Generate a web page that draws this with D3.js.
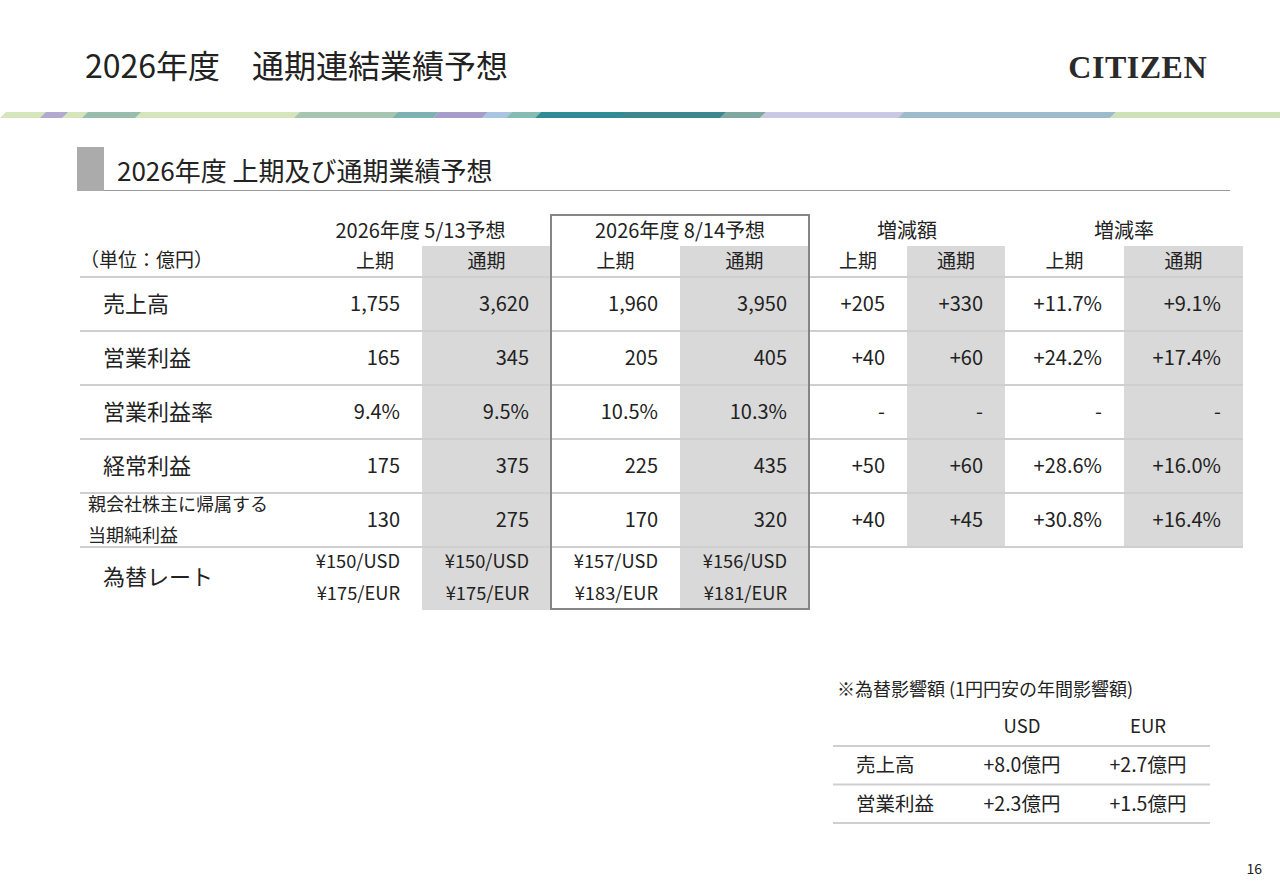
<!DOCTYPE html>
<html>
<head>
<meta charset="utf-8">
<script src="https://d3js.org/d3.v7.min.js"></script>
<style>
  body {margin: 0; background: #fff;}
  svg {font-family: "Noto Sans CJK JP", "Noto Sans", sans-serif; fill: #222;}
</style>
</head>
<body>
<svg id="slide" width="1280" height="886"></svg>
<script>
// data
var rowLabels = ["売上高", "営業利益", "営業利益率", "経常利益", "親会社株主に帰属する当期純利益"];
var plan513H1 = ["1,755", "165", "9.4%", "175", "130"];
var plan513FY = ["3,620", "345", "9.5%", "375", "275"];
var plan814H1 = ["1,960", "205", "10.5%", "225", "170"];
var plan814FY = ["3,950", "405", "10.3%", "435", "320"];
var diffH1 = ["+205", "+40", "-", "+50", "+40"];
var diffFY = ["+330", "+60", "-", "+60", "+45"];
var rateH1 = ["+11.7%", "+24.2%", "-", "+28.6%", "+30.8%"];
var rateFY = ["+9.1%", "+17.4%", "-", "+16.0%", "+16.4%"];
var fxUSD = ["¥150/USD", "¥150/USD", "¥157/USD", "¥156/USD"];
var fxEUR = ["¥175/EUR", "¥175/EUR", "¥183/EUR", "¥181/EUR"];
var groupHeads = ["2026年度 5/13予想", "2026年度 8/14予想", "増減額", "増減率"];
var subHeads = ["上期", "通期", "上期", "通期", "上期", "通期", "上期", "通期"];
var sensCurrencies = ["USD", "EUR"];
var sensLabels = ["売上高", "営業利益"];
var sensUSD = ["+8.0億円", "+2.3億円"];
var sensEUR = ["+2.7億円", "+1.5億円"];

var columns = [plan513H1, plan513FY, plan814H1, plan814FY, diffH1, diffFY, rateH1, rateFY];

var svg = d3.select("#slide");

// title
svg.append("text").attr("x", 85).attr("y", 78).attr("font-size", 32)
    .text("2026年度　通期連結業績予想");
svg.append("text").attr("x", 1207).attr("y", 78).attr("text-anchor", "end")
    .attr("font-family", "Liberation Serif, DejaVu Serif, serif").attr("font-weight", "bold")
    .attr("font-size", 32).attr("letter-spacing", 0.5).style("fill", "#2a2a2a").text("CITIZEN");

// coloured band
var band = [[0, 1280, "#d6e6bc"], [40, 62, "#b2a8d0"], [82, 135, "#98bcae"], [294, 392, "#a6c6b2"],
    [392, 433, "#7cb2b2"], [433, 482, "#a89cca"], [482, 506, "#a8c6e4"], [506, 535, "#84bcb4"],
    [535, 720, "#2f8c96"], [620, 720, "#3e8690"], [720, 760, "#7fa8a0"], [760, 898, "#cbc8e4"],
    [898, 1110, "#9dbccb"], [1110, 1280, "#cde2b6"]];
svg.append("g").selectAll("polygon").data(band).join("polygon")
    .attr("points", function(d) {
      return [[d[0] + 6, 112], [d[1] + 6, 112], [d[1], 118], [d[0], 118]].join(" ");
    })
    .style("fill", function(d) { return d[2]; });

// section heading
svg.append("rect").attr("x", 77).attr("y", 147).attr("width", 27).attr("height", 44).style("fill", "#ababab");
svg.append("line").attr("x1", 104).attr("x2", 1230).attr("y1", 190.5).attr("y2", 190.5)
    .style("stroke", "#9a9a9a").style("stroke-width", 1.2);
svg.append("text").attr("x", 117).attr("y", 181).attr("font-size", 26).text("2026年度 上期及び通期業績予想");

// table layout
var edges = [80, 328, 422, 551, 680, 809, 907, 1005, 1124, 1243];
var groupSpans = [[290, 551], [551, 809], [809, 1005], [1005, 1243]];
var pad = 22;
var y = d3.scaleBand().domain(rowLabels).range([277, 547]);
var fxTop = 547, fxBottom = 610;

// grey columns
var shaded = [1, 3, 5, 7];
svg.append("g").selectAll("rect").data(shaded).join("rect")
    .attr("x", function(c) { return edges[c + 1]; })
    .attr("y", 246)
    .attr("width", function(c) { return edges[c + 2] - edges[c + 1]; })
    .attr("height", function(c) { return (c < 4 ? fxBottom : fxTop) - 246; })
    .style("fill", "#d9d9d9");

// row lines
var lineYs = [277].concat(rowLabels.map(function(r) { return y(r) + y.bandwidth(); }));
svg.append("g").selectAll("line").data(lineYs).join("line")
    .attr("x1", 80).attr("x2", 1243).attr("y1", function(d) { return d; }).attr("y2", function(d) { return d; })
    .style("stroke", "#cfcfcf").style("stroke-width", 2);

// header
svg.append("text").attr("x", 80).attr("y", 267).attr("font-size", 19).text("（単位：億円）");
svg.append("g").selectAll("text").data(groupHeads).join("text")
    .attr("x", function(d, i) { return (groupSpans[i][0] + groupSpans[i][1]) / 2; })
    .attr("y", 238).attr("text-anchor", "middle").attr("font-size", 20)
    .text(function(d) { return d; });
svg.append("g").selectAll("text").data(subHeads).join("text")
    .attr("x", function(d, i) { return (edges[i + 1] + edges[i + 2]) / 2; })
    .attr("y", 268).attr("text-anchor", "middle").attr("font-size", 19)
    .text(function(d) { return d; });

// row labels
rowLabels.forEach(function(r, i) {
  var cy = y(r) + y.bandwidth() / 2;
  if (i === 4) {
    svg.append("text").attr("x", 88).attr("y", cy - 9).attr("font-size", 18).text("親会社株主に帰属する");
    svg.append("text").attr("x", 88).attr("y", cy + 22).attr("font-size", 18).text("当期純利益");
  } else {
    svg.append("text").attr("x", 103).attr("y", cy + 8).attr("font-size", 22).text(r);
  }
});

// values
columns.forEach(function(col, c) {
  svg.append("g").selectAll("text").data(col).join("text")
      .attr("x", edges[c + 2] - pad)
      .attr("y", function(d, i) { return y(rowLabels[i]) + y.bandwidth() / 2 + 7; })
      .attr("text-anchor", "end").attr("font-size", 20)
      .text(function(d) { return d; });
});

// fx rates
svg.append("text").attr("x", 103).attr("y", 585).attr("font-size", 22).text("為替レート");
[fxUSD, fxEUR].forEach(function(arr, k) {
  svg.append("g").selectAll("text").data(arr).join("text")
      .attr("x", function(d, i) { return edges[i + 2] - pad; })
      .attr("y", 568 + k * 32).attr("text-anchor", "end").attr("font-size", 18.3)
      .text(function(d) { return d; });
});

// box around 8/14 forecast
svg.append("rect").attr("x", 551).attr("y", 215).attr("width", 258).attr("height", 394)
    .style("fill", "none").style("stroke", "#858585").style("stroke-width", 2);

// sensitivity table
svg.append("text").attr("x", 837).attr("y", 696).attr("font-size", 18).text("※為替影響額 (1円円安の年間影響額)");
var sx = d3.scalePoint().domain(sensCurrencies).range([1022, 1148]);
var sy = d3.scaleBand().domain(sensLabels).range([746, 823]);
svg.append("g").selectAll("text").data(sensCurrencies).join("text")
    .attr("x", function(d) { return sx(d); }).attr("y", 733).attr("text-anchor", "middle")
    .attr("font-size", 18.5).text(function(d) { return d; });
var sLines = [746].concat(sensLabels.map(function(r) { return sy(r) + sy.bandwidth(); }));
svg.append("g").selectAll("line").data(sLines).join("line")
    .attr("x1", 833).attr("x2", 1210).attr("y1", function(d) { return d; }).attr("y2", function(d) { return d; })
    .style("stroke", "#cfcfcf").style("stroke-width", 2);
sensLabels.forEach(function(r, i) {
  var cy = sy(r) + sy.bandwidth() / 2 + 7;
  svg.append("text").attr("x", 856).attr("y", cy).attr("font-size", 19.5).text(r);
  svg.append("text").attr("x", sx("USD")).attr("y", cy).attr("text-anchor", "middle").attr("font-size", 19.5).text(sensUSD[i]);
  svg.append("text").attr("x", sx("EUR")).attr("y", cy).attr("text-anchor", "middle").attr("font-size", 19.5).text(sensEUR[i]);
});

// page number
svg.append("text").attr("x", 1262).attr("y", 874).attr("text-anchor", "end").attr("font-size", 14).text("16");
</script>
</body>
</html>
